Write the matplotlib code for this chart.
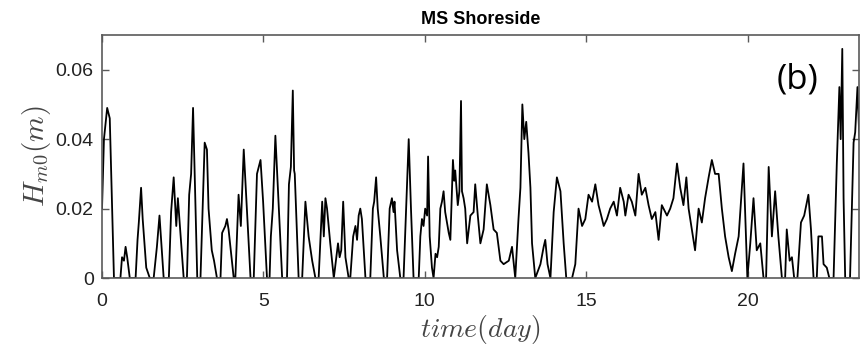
import matplotlib.pyplot as plt

plt.rcParams['font.family'] = ['Liberation Sans', 'DejaVu Sans']
plt.rcParams['mathtext.fontset'] = 'cm'

# Significant wave height record at the shoreside station
time_day = [
    0.00, 0.06, 0.16, 0.24, 0.30, 0.37, 0.57, 0.62, 0.68, 0.73, 0.78, 0.86,
    1.04, 1.10, 1.14, 1.21, 1.26, 1.37, 1.48, 1.60, 1.70, 1.78, 1.91,
    2.07, 2.14, 2.22, 2.30, 2.35, 2.53, 2.63, 2.70, 2.76, 2.82, 2.95,
    3.05, 3.18, 3.25, 3.30, 3.40, 3.47, 3.56, 3.67, 3.72, 3.82, 3.87, 3.92, 4.08,
    4.13, 4.23, 4.30, 4.39, 4.60, 4.70, 4.80, 4.91, 4.99, 5.11,
    5.19, 5.23, 5.29, 5.37, 5.58,
    5.73, 5.79, 5.85, 5.91, 5.95, 5.97, 6.09, 6.20, 6.30, 6.40, 6.51, 6.61,
    6.71, 6.82, 6.87, 6.92, 6.97, 7.07, 7.18, 7.26, 7.31, 7.36, 7.41, 7.47, 7.54, 7.64,
    7.69, 7.78, 7.85, 7.90, 7.95, 8.00, 8.05, 8.16,
    8.31, 8.39, 8.43, 8.49, 8.54, 8.62, 8.73,
    8.83, 8.91, 8.98, 9.03, 9.06, 9.14, 9.24,
    9.34, 9.42, 9.50, 9.57, 9.65,
    9.81, 9.86, 9.91, 9.96, 10.01, 10.07, 10.10, 10.15, 10.22, 10.27, 10.33, 10.38,
    10.43, 10.48, 10.53, 10.58, 10.63, 10.74, 10.79, 10.87, 10.91, 10.94, 11.02,
    11.07, 11.12, 11.15, 11.20, 11.25, 11.31, 11.36, 11.41, 11.51, 11.56,
    11.64, 11.72, 11.82, 11.92, 12.03, 12.13, 12.23, 12.34, 12.44, 12.60, 12.70,
    12.80, 12.90, 12.96, 13.02, 13.08, 13.14, 13.21, 13.27, 13.32, 13.42,
    13.58, 13.68, 13.73, 13.80, 13.89, 13.99, 14.09, 14.20, 14.30, 14.38,
    14.56, 14.66, 14.76, 14.87, 14.97, 15.07, 15.18, 15.28, 15.38, 15.49, 15.54,
    15.64, 15.74, 15.85, 15.95, 16.05, 16.16, 16.21, 16.31, 16.41, 16.52,
    16.62, 16.72, 16.83, 16.93, 17.03, 17.14, 17.24, 17.34, 17.50,
    17.60, 17.70, 17.81, 17.91, 18.01, 18.10, 18.17, 18.27, 18.37, 18.48,
    18.58, 18.68, 18.79, 18.89, 18.99, 19.10, 19.20, 19.30, 19.41, 19.51,
    19.61, 19.72, 19.82, 19.87, 19.92, 19.99, 20.08, 20.18, 20.28, 20.39,
    20.49, 20.57, 20.65, 20.75, 20.85, 20.95, 21.06, 21.16, 21.21, 21.30,
    21.37, 21.44, 21.54, 21.65, 21.75, 21.88, 21.96, 22.04, 22.14, 22.19,
    22.30, 22.35, 22.45, 22.53, 22.66, 22.76, 22.84, 22.88, 22.93, 22.97,
    23.02, 23.17, 23.28, 23.33, 23.40, 23.46,
]
hm0 = [
    0.020, 0.040, 0.049, 0.046, 0.025, 0.000, 0.000, 0.006, 0.005, 0.009, 0.006, 0.000,
    0.000, 0.011, 0.016, 0.026, 0.017, 0.003, 0.000, 0.000, 0.009, 0.018, 0.000,
    0.000, 0.019, 0.029, 0.015, 0.023, 0.000, 0.000, 0.024, 0.030, 0.049, 0.000,
    0.000, 0.039, 0.037, 0.020, 0.008, 0.005, 0.000, 0.000, 0.013, 0.015, 0.017, 0.014, 0.000,
    0.000, 0.024, 0.015, 0.037, 0.000, 0.000, 0.030, 0.034, 0.022, 0.000,
    0.000, 0.012, 0.020, 0.041, 0.000,
    0.000, 0.027, 0.032, 0.054, 0.031, 0.030, 0.000, 0.000, 0.022, 0.012, 0.005, 0.000,
    0.000, 0.022, 0.012, 0.023, 0.020, 0.010, 0.000, 0.006, 0.010, 0.006, 0.008, 0.022, 0.006, 0.000,
    0.000, 0.012, 0.015, 0.011, 0.018, 0.020, 0.017, 0.000,
    0.000, 0.020, 0.022, 0.029, 0.020, 0.012, 0.000,
    0.000, 0.020, 0.023, 0.019, 0.022, 0.008, 0.000,
    0.000, 0.020, 0.040, 0.020, 0.000,
    0.000, 0.012, 0.017, 0.015, 0.020, 0.018, 0.035, 0.012, 0.003, 0.000, 0.007, 0.006,
    0.009, 0.020, 0.022, 0.025, 0.019, 0.013, 0.011, 0.034, 0.028, 0.031, 0.021,
    0.025, 0.051, 0.025, 0.023, 0.020, 0.010, 0.014, 0.018, 0.019, 0.027,
    0.018, 0.010, 0.014, 0.027, 0.021, 0.014, 0.013, 0.005, 0.004, 0.005, 0.009,
    0.000, 0.017, 0.026, 0.050, 0.040, 0.045, 0.036, 0.026, 0.010, 0.000,
    0.004, 0.009, 0.011, 0.004, 0.000, 0.019, 0.029, 0.025, 0.010, 0.000,
    0.000, 0.004, 0.020, 0.015, 0.017, 0.024, 0.022, 0.027, 0.021, 0.017, 0.015,
    0.017, 0.020, 0.022, 0.018, 0.026, 0.022, 0.018, 0.024, 0.022, 0.018,
    0.030, 0.024, 0.026, 0.021, 0.017, 0.019, 0.011, 0.021, 0.018,
    0.020, 0.023, 0.033, 0.026, 0.021, 0.029, 0.020, 0.014, 0.008, 0.020,
    0.016, 0.023, 0.029, 0.034, 0.030, 0.030, 0.020, 0.012, 0.006, 0.002,
    0.007, 0.012, 0.026, 0.033, 0.019, 0.000, 0.010, 0.023, 0.008, 0.010,
    0.000, 0.000, 0.032, 0.012, 0.025, 0.012, 0.000, 0.000, 0.014, 0.005,
    0.006, 0.000, 0.000, 0.016, 0.018, 0.024, 0.014, 0.000, 0.000, 0.012,
    0.012, 0.004, 0.003, 0.000, 0.000, 0.033, 0.055, 0.040, 0.066, 0.023,
    0.000, 0.000, 0.039, 0.042, 0.055, 0.040,
]

x_ticks = [0, 5, 10, 15, 20]
y_ticks = [0, 0.02, 0.04, 0.06]
y_tick_labels = ['0', '0.02', '0.04', '0.06']

fig = plt.figure(figsize=(8.66, 3.45), dpi=100)
ax = fig.add_axes([0.1178, 0.194, 0.8742, 0.7046])

ax.plot(time_day, hm0, color='black', lw=1.3)

ax.set_xlim(0, 23.45)
ax.set_ylim(0, 0.07)
ax.set_xticks(x_ticks)
ax.set_yticks(y_ticks)
ax.set_yticklabels(y_tick_labels)

frame = '#5a5a5a'
for s in ax.spines.values():
    s.set_color(frame)
    s.set_linewidth(1.2)
ax.tick_params(direction='in', top=True, right=True, length=5, width=1,
               color=frame, labelsize=14, labelcolor='#222222')
ax.tick_params(axis='x', pad=11)
ax.tick_params(axis='y', pad=6)

ax.set_xlabel('$time(day)$', fontsize=20, color='#444444', labelpad=2)
ax.set_ylabel('$H_{m0}(m)$', fontsize=21, color='#444444', labelpad=2)
ax.set_title('MS Shoreside', fontsize=13, fontweight='bold', pad=8)

ax.text(0.919, 0.815, '(b)', transform=ax.transAxes, fontsize=25,
        family='Open Sans', ha='center', va='center')

fig.savefig('out.png', dpi=100)
